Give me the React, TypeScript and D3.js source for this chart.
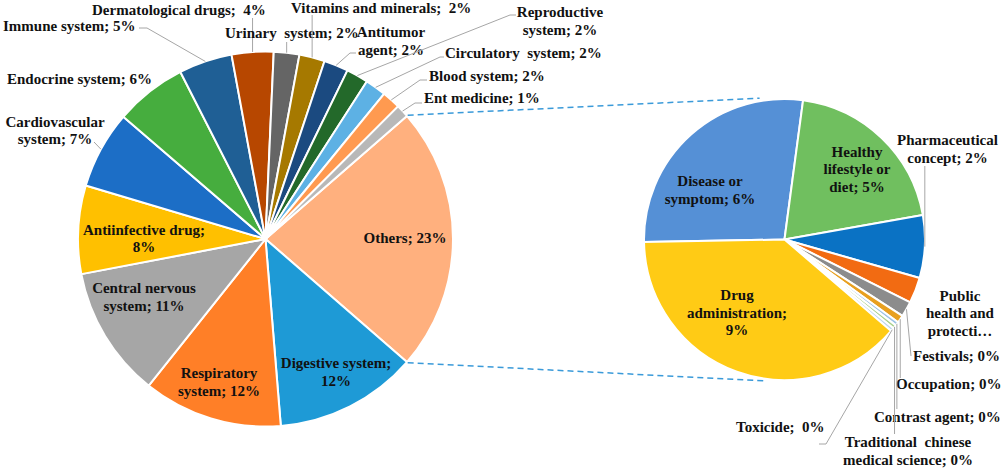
import { useEffect, useRef } from 'react'
import * as d3 from 'd3'

const W = 1003
const H = 469

// main pie (share of all items, %)
const mainCategories = [
  'Others', 'Digestive system', 'Respiratory system', 'Central nervous system',
  'Antiinfective drug', 'Cardiovascular system', 'Endocrine system', 'Immune system',
  'Dermatological drugs', 'Urinary system', 'Vitamins and minerals', 'Antitumor agent',
  'Reproductive system', 'Circulatory system', 'Blood system', 'Ent medicine',
]
const mainValues = [22.8, 12.3, 12.0, 11.3, 7.6, 6.7, 6.2, 4.6, 3.6, 2.2, 2.2, 2.1, 1.9, 1.8, 1.6, 1.1]
const mainColors = [
  '#FFB07E', '#1E9AD6', '#FF7F27', '#A6A6A6', '#FFC000', '#1C6EC6', '#46AD3E', '#1F5F95',
  '#B74700', '#656565', '#A67900', '#1B4A80', '#23692A', '#5DB1E4', '#FF9A50', '#B8B8B8',
]

// secondary pie (split of "Others", %)
const subCategories = [
  'Disease or symptom', 'Healthy lifestyle or diet', 'Pharmaceutical concept',
  'Public health and protection', 'Festivals', 'Occupation', 'Contrast agent',
  'Traditional chinese medical science', 'Toxicide', 'Drug administration',
]
const subValues = [6.3, 4.62, 1.66, 0.68, 0.41, 0.2, 0.1, 0.1, 0.09, 8.84]
const subColors = [
  '#5590D6', '#70BF5F', '#0A72C4', '#F26B12', '#8C8C8C', '#E8A020', '#9DC3E6',
  '#A9D18E', '#BDD7EE', '#FFCB15',
]

type Label = {
  lines: string[]
  x: number
  y: number
  anchor?: string
  leader?: [number, number][]
  vertical?: number
}

// label placement (Excel "best fit" style, set by hand)
const mainLabels: Record<string, Label> = {
  'Others': { lines: ['Others; 23%'], x: 405, y: 243 },
  'Digestive system': { lines: ['Digestive system;', '12%'], x: 336, y: 368 },
  'Respiratory system': { lines: ['Respiratory', 'system; 12%'], x: 219, y: 378 },
  'Central nervous system': { lines: ['Central nervous', 'system; 11%'], x: 144, y: 293 },
  'Antiinfective drug': { lines: ['Antiinfective drug;', '8%'], x: 144, y: 234.5 },
  'Cardiovascular system': { lines: ['Cardiovascular', 'system; 7%'], x: 55, y: 126.5, leader: [[94, 142]] },
  'Endocrine system': { lines: ['Endocrine system; 6%'], x: 7, y: 84, anchor: 'start' },
  'Immune system': { lines: ['Immune system; 5%'], x: 3, y: 30.5, anchor: 'start', leader: [[147, 28], [139, 28]] },
  'Dermatological drugs': { lines: ['Dermatological drugs;  4%'], x: 92, y: 15, anchor: 'start', vertical: 18 },
  'Urinary system': { lines: ['Urinary  system; 2%'], x: 225, y: 37.5, anchor: 'start', vertical: 42 },
  'Vitamins and minerals': { lines: ['Vitamins and minerals;  2%'], x: 291, y: 12.5, anchor: 'start', vertical: 15 },
  'Antitumor agent': { lines: ['Antitumor', 'agent; 2%'], x: 391, y: 37.3, leader: [[350, 53], [356, 53]] },
  'Reproductive system': { lines: ['Reproductive', 'system; 2%'], x: 560, y: 17.3, leader: [[510, 15], [516, 15]] },
  'Circulatory system': { lines: ['Circulatory  system; 2%'], x: 445, y: 58.3, anchor: 'start', leader: [[440, 57], [444, 57]] },
  'Blood system': { lines: ['Blood system; 2%'], x: 429, y: 81, anchor: 'start', leader: [[420, 80], [427, 80]] },
  'Ent medicine': { lines: ['Ent medicine; 1%'], x: 424, y: 103.3, anchor: 'start', leader: [[415, 103], [422, 103]] },
}

const subLabels: Record<string, Label> = {
  'Disease or symptom': { lines: ['Disease or', 'symptom; 6%'], x: 710, y: 186 },
  'Healthy lifestyle or diet': { lines: ['Healthy', 'lifestyle or', 'diet; 5%'], x: 857, y: 156.7 },
  'Pharmaceutical concept': { lines: ['Pharmaceutical', 'concept; 2%'], x: 947.5, y: 145, vertical: 166 },
  'Public health and protection': { lines: ['Public', 'health and', 'protecti…'], x: 960, y: 300.7 },
  'Festivals': { lines: ['Festivals; 0%'], x: 913, y: 360.7, anchor: 'start', leader: [[911, 356]] },
  'Occupation': { lines: ['Occupation; 0%'], x: 896, y: 389, anchor: 'start', vertical: 378 },
  'Contrast agent': { lines: ['Contrast agent; 0%'], x: 874, y: 421.7, anchor: 'start', vertical: 409 },
  'Traditional chinese medical science': { lines: ['Traditional  chinese', 'medical science; 0%'], x: 908, y: 447.3, vertical: 434 },
  'Toxicide': { lines: ['Toxicide;  0%'], x: 736, y: 431.7, anchor: 'start', leader: [[826, 444], [819, 444]] },
  'Drug administration': { lines: ['Drug', 'administration;', '9%'], x: 737, y: 300 },
}

const mainCenter = { x: 265.5, y: 239, r: 187.5 }
const subCenter = { x: 784.5, y: 239.5, r: 140.5 }

const polar = (cx: number, cy: number, r: number, a: number): [number, number] =>
  [cx + r * Math.sin(a), cy - r * Math.cos(a)]

export default function App() {
  const svgRef = useRef<SVGSVGElement>(null)

  useEffect(() => {
    if (!svgRef.current) return
    const svg = d3.select(svgRef.current)
    svg.selectAll('*').remove()

    const font = "'Liberation Serif', 'Times New Roman', serif"

    const drawLabel = (g: any, lab: Label) => {
      const t = g.append('text')
        .attr('x', lab.x)
        .attr('y', lab.y)
        .attr('text-anchor', lab.anchor || 'middle')
        .style('font-family', font)
        .style('font-weight', 'bold')
        .style('font-size', '15px')
        .style('white-space', 'pre')
        .style('fill', '#111')
      lab.lines.forEach((l, i) => {
        t.append('tspan').attr('x', lab.x).attr('dy', i === 0 ? 0 : 17.5).text(l)
      })
    }

    const drawPie = (
      cats: string[], vals: number[], cols: string[], labels: Record<string, Label>,
      c: { x: number, y: number, r: number }, start: number,
    ) => {
      const pie = d3.pie<number>().sort(null).value(d => d)
        .startAngle(start).endAngle(start + 2 * Math.PI)
      const arcs = pie(vals)
      const arc = d3.arc<d3.PieArcDatum<number>>().innerRadius(0).outerRadius(c.r)

      const g = svg.append('g').attr('transform', `translate(${c.x},${c.y})`)
      g.selectAll('path')
        .data(arcs)
        .join('path')
        .attr('d', arc as any)
        .attr('fill', (_, i) => cols[i])
        .attr('stroke', '#fff')
        .attr('stroke-width', 2)
        .attr('stroke-linejoin', 'round')

      const lg = svg.append('g')
      arcs.forEach((a, i) => {
        const lab = labels[cats[i]]
        if (!lab) return
        const mid = (a.startAngle + a.endAngle) / 2
        const p0 = polar(c.x, c.y, c.r, mid)
        let pts: [number, number][] | null = null
        if (lab.leader) pts = [p0, ...lab.leader]
        else if (lab.vertical !== undefined) pts = [p0, [p0[0], lab.vertical]]
        if (pts) {
          lg.append('path')
            .attr('d', d3.line()(pts))
            .attr('fill', 'none')
            .attr('stroke', '#A6A6A6')
            .attr('stroke-width', 1)
        }
        drawLabel(lg, lab)
      })
      return arcs
    }

    const total = d3.sum(mainValues)
    const mainStart = Math.PI / 2 - (mainValues[0] / total) * Math.PI
    const mainArcs = drawPie(mainCategories, mainValues, mainColors, mainLabels, mainCenter, mainStart)
    drawPie(subCategories, subValues, subColors, subLabels, subCenter, (-91 * Math.PI) / 180)

    // connector lines from "Others" to the secondary pie
    const others = mainArcs[0]
    const connectors: [[number, number], [number, number]][] = [
      [polar(mainCenter.x, mainCenter.y, mainCenter.r + 1, others.startAngle),
        polar(subCenter.x, subCenter.y, subCenter.r + 3, (-10 * Math.PI) / 180)],
      [polar(mainCenter.x, mainCenter.y, mainCenter.r + 1, others.endAngle),
        polar(subCenter.x, subCenter.y, subCenter.r + 2, (187 * Math.PI) / 180)],
    ]
    connectors.forEach(pts => {
      svg.append('path')
        .attr('d', d3.line()(pts))
        .attr('fill', 'none')
        .attr('stroke', '#3A9AD9')
        .attr('stroke-width', 1.5)
        .attr('stroke-dasharray', '6,4')
    })
  }, [])

  return (
    <svg
      ref={svgRef}
      width={W}
      height={H}
      style={{ position: 'absolute', left: 0, top: 0, background: '#fff' }}
    />
  )
}
